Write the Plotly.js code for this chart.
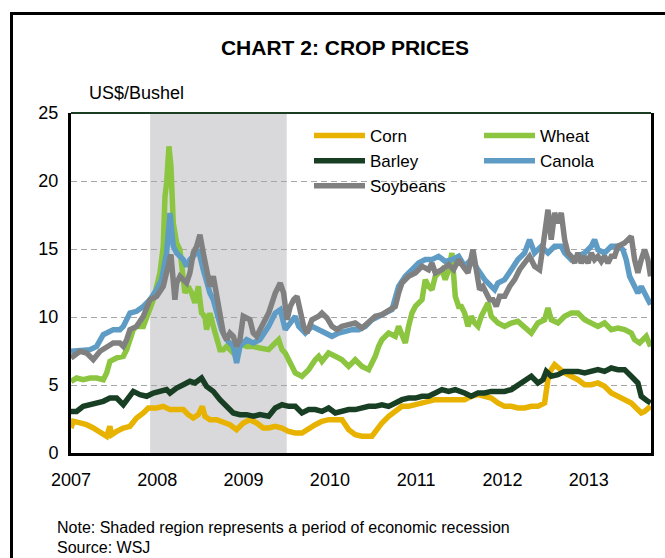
<!DOCTYPE html>
<html><head><meta charset="utf-8">
<script src="https://cdn.plot.ly/plotly-3.0.1.min.js"></script>
<style>html,body{margin:0;padding:0;background:#fff;}#chart{width:665px;height:558px;}</style>
</head><body><div id="chart"></div>
<script>
// ---- Data (US$/bushel, x in decimal years) ----
const years = [2007, 2008, 2009, 2010, 2011, 2012, 2013];
const yearLabels = ['2007', '2008', '2009', '2010', '2011', '2012', '2013'];
const recessionStart = 2007.917; // Dec 2007
const recessionEnd = 2009.5;     // Jun 2009

const cornX = [2007.00,2007.027,2007.104,2007.181,2007.258,2007.336,2007.413,2007.451,2007.471,2007.529,2007.606,2007.683,2007.760,2007.838,2007.896,2007.992,2008.069,2008.147,2008.224,2008.301,2008.359,2008.417,2008.475,2008.521,2008.552,2008.610,2008.687,2008.765,2008.842,2008.919,2008.996,2009.073,2009.151,2009.228,2009.290,2009.367,2009.445,2009.522,2009.599,2009.676,2009.754,2009.831,2009.908,2009.985,2010.063,2010.140,2010.217,2010.294,2010.372,2010.487,2010.545,2010.603,2010.681,2010.758,2010.835,2010.912,2010.990,2011.067,2011.144,2011.221,2011.298,2011.376,2011.453,2011.561,2011.638,2011.716,2011.793,2011.870,2011.947,2012.025,2012.102,2012.179,2012.256,2012.334,2012.411,2012.488,2012.527,2012.565,2012.604,2012.643,2012.681,2012.720,2012.797,2012.874,2012.952,2013.029,2013.106,2013.183,2013.261,2013.338,2013.415,2013.492,2013.550,2013.608,2013.647,2013.685,2013.716];
const cornY = [1.84,2.33,2.21,2.08,1.84,1.47,1.23,1.96,1.35,1.59,1.84,1.96,2.57,2.94,3.31,3.31,3.43,3.19,3.19,3.19,2.82,2.57,2.82,3.43,2.70,2.45,2.45,2.21,2.08,1.72,2.21,2.45,2.21,1.84,1.84,1.96,1.84,1.59,1.47,1.47,1.72,2.08,2.33,2.45,2.45,2.45,1.72,1.35,1.23,1.23,1.72,2.21,2.70,3.06,3.43,3.43,3.55,3.68,3.80,3.92,3.92,3.92,3.92,3.92,4.17,4.29,4.17,4.04,3.68,3.43,3.43,3.31,3.31,3.43,3.43,3.68,5.39,6.13,6.50,6.25,6.13,5.88,5.64,5.39,5.02,5.02,5.15,4.90,4.41,4.17,3.92,3.68,3.31,2.94,3.06,3.31,3.43];

const wheatX = [2007.00,2007.065,2007.142,2007.220,2007.297,2007.374,2007.413,2007.451,2007.529,2007.606,2007.645,2007.683,2007.722,2007.760,2007.838,2007.896,2007.954,2008.031,2008.069,2008.089,2008.108,2008.135,2008.158,2008.185,2008.224,2008.262,2008.301,2008.320,2008.359,2008.398,2008.436,2008.475,2008.513,2008.552,2008.571,2008.610,2008.649,2008.687,2008.726,2008.765,2008.803,2008.880,2008.958,2009.035,2009.112,2009.189,
  2009.290,2009.367,2009.406,2009.445,2009.483,2009.522,2009.599,2009.676,2009.754,2009.831,2009.870,2009.908,2009.985,2010.063,2010.140,2010.217,2010.294,2010.372,2010.449,2010.487,2010.526,2010.565,2010.603,2010.681,2010.758,2010.796,2010.874,2010.912,2010.951,2010.990,2011.067,2011.105,2011.144,2011.183,2011.221,2011.298,2011.337,2011.376,2011.414,2011.453,2011.492,
  2011.523,2011.561,2011.600,2011.638,2011.677,2011.716,2011.754,2011.793,2011.832,2011.870,2011.909,2011.947,2012.025,2012.102,2012.179,2012.256,2012.295,2012.334,2012.411,2012.488,2012.527,2012.565,2012.643,2012.720,2012.797,2012.874,2012.952,2013.029,2013.106,2013.183,2013.261,2013.338,2013.415,2013.492,2013.531,2013.589,2013.627,2013.666,2013.716];
const wheatY = [5.27,5.51,5.39,5.51,5.51,5.39,5.88,6.74,6.99,7.11,7.60,8.33,9.07,9.31,9.31,10.29,11.27,13.24,15.20,18.87,19.85,22.55,21.08,16.91,15.44,14.95,13.24,11.76,12.25,11.76,11.03,12.25,10.29,10.05,9.07,10.29,9.31,8.33,7.60,7.60,7.84,7.35,8.09,7.84,7.84,7.72,
  7.60,8.09,8.33,7.60,7.35,6.86,5.88,5.64,6.13,6.86,7.11,6.74,7.35,7.11,6.86,6.37,6.86,6.37,6.13,6.62,7.11,7.84,8.33,8.82,8.58,9.31,8.09,9.31,10.29,10.78,11.27,12.75,12.25,12.01,12.99,13.48,12.75,13.48,14.71,11.52,10.78,
  10.78,10.29,9.31,10.05,9.56,9.31,10.05,10.54,11.03,10.05,9.80,9.56,9.31,9.56,9.68,9.31,9.07,8.82,9.56,9.80,10.66,9.80,9.56,10.05,10.29,10.29,9.80,9.56,9.31,9.56,9.07,9.19,9.07,8.82,8.33,8.09,8.33,8.58,7.84];

const barleyX = [2007.00,2007.065,2007.142,2007.220,2007.297,2007.374,2007.451,2007.529,2007.606,2007.683,2007.722,2007.799,2007.877,2007.954,2008.031,2008.108,2008.147,2008.224,2008.301,2008.378,2008.436,2008.513,2008.571,2008.649,2008.726,2008.803,2008.880,2008.958,2009.035,2009.112,2009.189,
  2009.290,2009.367,2009.445,2009.522,2009.599,2009.676,2009.754,2009.831,2009.908,2009.985,2010.063,2010.140,2010.217,2010.294,2010.372,2010.449,2010.526,2010.603,2010.681,2010.758,2010.835,2010.912,2010.990,2011.067,2011.144,2011.221,2011.298,2011.376,2011.453,
  2011.561,2011.638,2011.716,2011.793,2011.870,2011.947,2012.025,2012.102,2012.179,2012.256,2012.334,2012.411,2012.469,2012.507,2012.565,2012.643,2012.720,2012.797,2012.874,2012.952,2013.029,2013.106,2013.183,2013.261,2013.338,2013.415,2013.492,2013.569,2013.608,2013.647,2013.685,2013.716];
const barleyY = [3.06,3.06,3.43,3.55,3.68,3.80,4.04,4.04,3.55,4.29,4.53,4.29,4.17,4.41,4.53,4.66,4.41,4.78,5.02,5.27,5.15,5.51,4.90,4.53,3.92,3.43,2.94,2.82,2.82,2.70,2.82,
  2.70,3.31,3.55,3.43,3.43,2.94,3.19,3.19,3.06,3.31,2.94,3.06,3.19,3.19,3.31,3.43,3.43,3.55,3.43,3.68,3.92,4.04,4.04,4.17,4.17,4.41,4.66,4.53,4.66,
  4.41,4.17,4.41,4.41,4.53,4.53,4.53,4.66,5.02,5.39,5.64,5.15,5.39,6.00,5.64,5.76,6.00,6.00,6.00,5.88,6.00,6.13,6.00,6.25,6.13,6.13,5.64,5.15,4.17,3.92,3.80,3.68];

const canolaX = [2007.00,2007.104,2007.220,2007.297,2007.374,2007.413,2007.490,2007.567,2007.606,2007.683,2007.760,2007.838,2007.915,2007.992,2008.050,2008.108,2008.147,2008.185,2008.224,2008.262,2008.301,2008.340,2008.378,2008.417,2008.475,2008.533,2008.610,2008.649,2008.687,2008.745,2008.803,2008.880,2008.919,2008.958,2009.035,2009.112,2009.189,
  2009.290,2009.367,2009.425,2009.483,2009.541,2009.599,2009.638,2009.715,2009.792,2009.870,2009.947,2010.024,2010.101,2010.179,2010.256,2010.333,2010.410,2010.487,2010.565,2010.642,2010.719,2010.796,2010.874,2010.951,2011.028,2011.105,2011.182,2011.260,2011.337,2011.414,2011.492,
  2011.561,2011.638,2011.716,2011.793,2011.870,2011.909,2011.947,2012.025,2012.102,2012.179,2012.256,2012.314,2012.372,2012.450,2012.527,2012.604,2012.681,2012.720,2012.797,2012.874,2012.952,2013.029,2013.067,2013.106,2013.183,2013.261,2013.338,2013.396,2013.434,2013.473,2013.512,2013.569,2013.608,2013.647,2013.685,2013.716];
const canolaY = [7.48,7.55,7.60,7.84,8.70,8.82,9.07,9.07,9.31,10.29,10.42,10.78,11.27,12.01,12.75,14.71,17.65,15.20,14.71,14.46,14.22,13.73,14.22,14.46,14.95,13.48,11.76,11.27,10.29,9.07,8.33,7.84,6.62,7.84,8.33,8.09,8.33,
  9.31,10.29,10.54,9.07,9.56,10.05,9.31,8.82,9.31,9.07,8.82,8.58,8.82,8.95,9.07,9.07,9.31,9.80,10.05,10.29,10.54,12.25,12.99,13.48,13.97,14.22,14.22,14.46,14.09,14.22,14.46,
  13.73,14.22,13.48,12.75,12.25,12.01,12.50,12.75,13.48,14.22,14.71,15.69,14.71,15.20,14.71,15.20,15.20,14.71,14.22,14.46,14.71,15.20,15.69,14.95,14.71,15.20,15.20,14.95,14.22,12.99,12.50,11.76,12.25,11.76,11.27,10.91];

const soybeansX = [2007.00,2007.027,2007.104,2007.181,2007.258,2007.336,2007.413,2007.490,2007.567,2007.606,2007.645,2007.683,2007.760,2007.838,2007.915,2007.992,2008.069,2008.158,2008.204,2008.224,2008.262,2008.301,2008.340,2008.378,2008.417,2008.456,2008.494,2008.533,2008.572,2008.610,2008.649,2008.687,2008.726,2008.765,2008.803,2008.842,2008.880,2008.919,2008.958,2008.996,2009.073,2009.112,2009.151,2009.209,
  2009.290,2009.367,2009.425,2009.464,2009.503,2009.541,2009.580,2009.619,2009.657,2009.696,2009.734,2009.792,2009.870,2009.908,2009.966,2010.024,2010.082,2010.140,2010.217,2010.294,2010.372,2010.449,2010.526,2010.603,2010.681,2010.758,2010.796,2010.835,2010.912,2010.990,2011.067,2011.144,2011.183,2011.221,2011.298,2011.376,2011.434,2011.492,
  2011.542,2011.600,2011.658,2011.696,2011.735,2011.774,2011.812,2011.851,2011.890,2011.928,2011.967,2012.025,2012.083,2012.141,2012.198,2012.256,2012.314,2012.372,2012.430,2012.469,2012.507,2012.527,2012.565,2012.604,2012.643,2012.681,2012.720,2012.758,2012.797,2012.836,2012.874,2012.913,2012.952,2012.990,2013.029,2013.067,2013.106,2013.145,2013.183,2013.222,2013.261,2013.299,2013.338,2013.376,2013.415,2013.454,2013.492,2013.531,2013.569,2013.608,2013.647,2013.685,2013.716];
const soybeansY = [6.99,7.11,7.48,7.35,6.86,7.48,7.84,8.09,8.09,7.84,8.33,9.07,9.31,10.05,11.27,11.52,12.25,14.60,11.27,12.50,12.99,12.75,12.50,13.24,14.71,15.20,16.05,14.71,13.24,12.25,12.99,11.76,10.29,8.82,8.33,8.82,8.58,7.84,8.33,10.05,9.80,8.82,8.58,9.31,
  10.29,11.76,12.50,11.76,9.80,10.78,11.27,11.52,10.29,9.31,8.82,9.80,10.05,10.29,9.93,9.31,9.07,9.31,9.44,9.56,9.19,9.68,10.05,10.17,10.54,10.78,11.76,12.50,12.99,13.24,13.73,13.48,13.97,13.24,13.48,13.85,13.48,14.22,
  13.73,13.24,14.95,13.24,12.01,12.25,11.76,11.27,11.27,10.78,11.52,11.52,12.25,12.75,13.48,13.97,14.46,13.73,13.48,15.20,16.67,17.89,15.69,17.65,16.91,17.65,15.69,14.71,14.46,13.97,14.71,13.97,14.46,13.97,14.71,14.22,14.46,14.09,14.46,13.97,14.46,14.46,15.20,15.32,15.44,15.69,15.93,14.22,13.24,14.22,14.95,14.22,12.99];

// ---- Styling ----
const FONT = '"Liberation Sans", Arial, sans-serif';
const M = {l: 71, r: 14, t: 113, b: 105};
const W = 665, H = 558;
const PW = W - M.l - M.r, PH = H - M.t - M.b;
const px = v => (v - M.l) / PW;          // pixel x -> paper x
const py = v => (H - M.b - v) / PH;      // pixel y -> paper y

const LW = 5.5;
function tr(name, x, y, color, legend) {
  return {type: 'scatter', mode: 'lines', name: name, x: x, y: y,
    line: {color: color, width: LW}, legend: legend, hoverinfo: 'skip'};
}
const data = [
  tr('Corn', cornX, cornY, '#e8b200', 'legend'),
  tr('Wheat', wheatX, wheatY, '#8cc540', 'legend2'),
  tr('Barley', barleyX, barleyY, '#183f24', 'legend'),
  tr('Canola', canolaX, canolaY, '#5e9cc5', 'legend2'),
  tr('Soybeans', soybeansX, soybeansY, '#808080', 'legend')
];

const legendCommon = {xanchor: 'left', yanchor: 'top', bgcolor: 'rgba(0,0,0,0)', borderwidth: 0,
  font: {family: FONT, size: 17, color: '#000'}, itemwidth: 51, tracegroupgap: 0, orientation: 'v'};

const layout = {
  width: W, height: H,
  margin: {l: M.l, r: M.r, t: M.t, b: M.b, pad: 0},
  paper_bgcolor: '#fff', plot_bgcolor: '#fff',
  font: {family: FONT, color: '#000'},
  title: {text: 'CHART 2: CROP PRICES', font: {family: FONT, size: 21, weight: 700, color: '#000'},
    xref: 'container', yref: 'container', x: 345 / W, y: 1 - 48 / H, xanchor: 'center', yanchor: 'middle'},
  xaxis: {range: [2007, 2013.721], tickvals: years, ticktext: yearLabels, showgrid: false, zeroline: false,
    showline: true, linecolor: '#000', linewidth: 3, ticks: '', tickfont: {family: FONT, size: 18, color: '#000'},
    ticklabelstandoff: 8, fixedrange: true},
  yaxis: {range: [0, 25], tickvals: [0, 5, 10, 15, 20, 25], showgrid: true, gridcolor: '#a6a6a6', gridwidth: 1,
    griddash: '6px,4px', zeroline: false, showline: true, mirror: true, linecolor: '#000', linewidth: 3,
    ticks: '', tickfont: {family: FONT, size: 18, color: '#000'}, ticklabelstandoff: 6, fixedrange: true},
  legend: Object.assign({}, legendCommon, {x: px(309), y: py(118)}),
  legend2: Object.assign({}, legendCommon, {x: px(479), y: py(118)}),
  shapes: [
    {type: 'rect', xref: 'x', yref: 'paper', x0: recessionStart, x1: recessionEnd, y0: 0, y1: 1,
      fillcolor: '#d9d9db', line: {width: 0}, layer: 'between'},
    {type: 'line', xref: 'paper', yref: 'paper', x0: 0, x1: 1, y0: 1, y1: 1,
      line: {color: '#1b3d22', width: 2}, layer: 'above'},
    {type: 'line', xref: 'paper', yref: 'paper', x0: px(11.5), x1: px(11.5), y0: py(570), y1: py(13.5),
      line: {color: '#000', width: 3}},
    {type: 'line', xref: 'paper', yref: 'paper', x0: px(10), x1: px(680), y0: py(13.5), y1: py(13.5),
      line: {color: '#000', width: 3}}
  ],
  annotations: [
    {text: 'US$/Bushel', xref: 'paper', yref: 'paper', x: px(87), y: py(93), xanchor: 'left', yanchor: 'middle',
      showarrow: false, font: {family: FONT, size: 18, color: '#000'}},
    {text: 'Note: Shaded region represents a period of economic recession', xref: 'paper', yref: 'paper',
      x: px(55), y: py(527), xanchor: 'left', yanchor: 'middle', showarrow: false,
      font: {family: FONT, size: 16, color: '#000'}},
    {text: 'Source: WSJ', xref: 'paper', yref: 'paper', x: px(55), y: py(547), xanchor: 'left', yanchor: 'middle',
      showarrow: false, font: {family: FONT, size: 16, color: '#000'}}
  ],
  showlegend: true
};

Plotly.newPlot('chart', data, layout, {staticPlot: true, displayModeBar: false});
</script>
</body></html>
